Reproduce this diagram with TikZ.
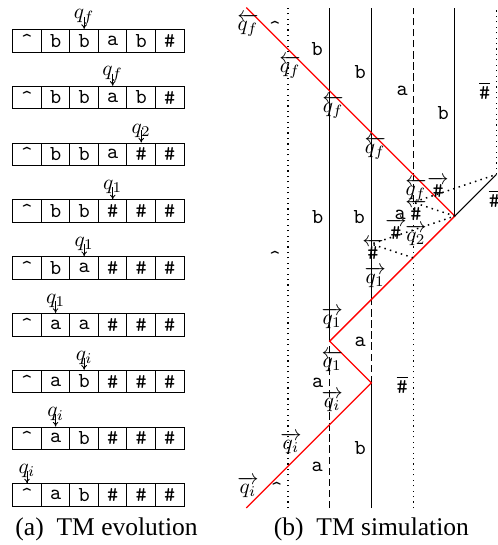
\documentclass[tikz,border=0pt]{standalone}
\usepackage{amsmath,amssymb}
\usepackage{fontspec}
\newfontfamily\capfont{Liberation Serif}
\usepackage{tikz}
\usetikzlibrary{arrows.meta, calc}

\begin{document}
\begin{tikzpicture}[
  x=19.6pt, y=19.6pt,
  cell/.style={draw, line width=0.45pt, minimum width=13.42pt, minimum height=10.6pt,
               inner sep=0pt, font=\ttfamily},
  headlbl/.style={inner sep=0pt},
  headarr/.style={-{To[length=2.2pt,width=2.6pt]}, line width=0.4pt},
  sym/.style={inner sep=0pt, font=\ttfamily},
  siglbl/.style={inner sep=0pt},
  bsol/.style={line width=0.55pt},
  bdash/.style={line width=0.55pt, dash pattern=on 3.4pt off 1.8pt},
  bdot/.style={line width=0.55pt, dotted},
  hsig/.style={draw=red, line width=0.6pt},
  fan/.style={line width=0.7pt, dotted},
  caption/.style={font=\capfont\fontsize{12}{14}\selectfont},
]
\useasboundingbox (-6.906,-0.887) rectangle (5.036,12.182);

% --- tape geometry (a) ---
\def\xT{-6.6}
\def\cw{0.6847}
\def\yT{11.205}
\def\dy{1.362}

% =========================================================
% (a) TM evolution, one tape per step
% =========================================================
\foreach \s [count=\c from 0] in {\textasciicircum,b,b,a,b,\#}
  \node[cell] (r0c\c) at (\xT+\c*\cw+0.5*\cw, \yT) {\s};
\node[headlbl] (h0) at ($(r0c2.north)+(0,0.29)$) {$q_f$};
\draw[headarr] (h0.center) -- (r0c2.north);

\foreach \s [count=\c from 0] in {\textasciicircum,b,b,a,b,\#}
  \node[cell] (r1c\c) at (\xT+\c*\cw+0.5*\cw, \yT-1*\dy) {\s};
\node[headlbl] (h1) at ($(r1c3.north)+(0,0.29)$) {$q_f$};
\draw[headarr] (h1.center) -- (r1c3.north);

\foreach \s [count=\c from 0] in {\textasciicircum,b,b,a,\#,\#}
  \node[cell] (r2c\c) at (\xT+\c*\cw+0.5*\cw, \yT-2*\dy) {\s};
\node[headlbl] (h2) at ($(r2c4.north)+(0,0.29)$) {$q_2$};
\draw[headarr] (h2.center) -- (r2c4.north);

\foreach \s [count=\c from 0] in {\textasciicircum,b,b,\#,\#,\#}
  \node[cell] (r3c\c) at (\xT+\c*\cw+0.5*\cw, \yT-3*\dy) {\s};
\node[headlbl] (h3) at ($(r3c3.north)+(0,0.29)$) {$q_1$};
\draw[headarr] (h3.center) -- (r3c3.north);

\foreach \s [count=\c from 0] in {\textasciicircum,b,a,\#,\#,\#}
  \node[cell] (r4c\c) at (\xT+\c*\cw+0.5*\cw, \yT-4*\dy) {\s};
\node[headlbl] (h4) at ($(r4c2.north)+(0,0.29)$) {$q_1$};
\draw[headarr] (h4.center) -- (r4c2.north);

\foreach \s [count=\c from 0] in {\textasciicircum,a,a,\#,\#,\#}
  \node[cell] (r5c\c) at (\xT+\c*\cw+0.5*\cw, \yT-5*\dy) {\s};
\node[headlbl] (h5) at ($(r5c1.north)+(0,0.29)$) {$q_1$};
\draw[headarr] (h5.center) -- (r5c1.north);

\foreach \s [count=\c from 0] in {\textasciicircum,a,b,\#,\#,\#}
  \node[cell] (r6c\c) at (\xT+\c*\cw+0.5*\cw, \yT-6*\dy) {\s};
\node[headlbl] (h6) at ($(r6c2.north)+(0,0.29)$) {$q_i$};
\draw[headarr] (h6.center) -- (r6c2.north);

\foreach \s [count=\c from 0] in {\textasciicircum,a,b,\#,\#,\#}
  \node[cell] (r7c\c) at (\xT+\c*\cw+0.5*\cw, \yT-7*\dy) {\s};
\node[headlbl] (h7) at ($(r7c1.north)+(0,0.29)$) {$q_i$};
\draw[headarr] (h7.center) -- (r7c1.north);

\foreach \s [count=\c from 0] in {\textasciicircum,a,b,\#,\#,\#}
  \node[cell] (r8c\c) at (\xT+\c*\cw+0.5*\cw, \yT-8*\dy) {\s};
\node[headlbl] (h8) at ($(r8c0.north)+(0,0.29)$) {$q_i$};
\draw[headarr] (h8.center) -- (r8c0.north);

\node[caption] (capa) at (-4.35,-0.52) {(a)\ \ TM evolution};

% =========================================================
% (b) TM simulation, space-time diagram
% =========================================================
\coordinate (s0) at (-1,0);
\coordinate (s1) at (2,3);
\coordinate (s2) at (1,4);
\coordinate (s3) at (4,7);
\coordinate (s4) at (-1,12);
\coordinate (e1) at (5,8);
\coordinate (w1) at (3,6);
\coordinate (w2) at (2,6.33);
\coordinate (w3) at (3,7.33);

% --- cell borders ---
\draw[bdot]  (0,0) -- (0,12);
\draw[bdash] (1,0) -- (s2);
\draw[bsol]  (s2) -- (1,12);
\draw[bsol]  (2,0) -- (s1);
\draw[bdash] (s1) -- (2,5);
\draw[bsol]  (2,5) -- (2,12);
\draw[bdot]  (3,0) -- (w3);
\draw[bdash] (w3) -- (3,12);
\draw[bsol]  (s3) -- (4,12);
\draw[bdot]  (e1) -- (5,12);

% --- head and tape extension ---
\draw[hsig] (s0) -- (s1) -- (s2) -- (s3) -- (s4);
\draw[bsol] (s3) -- (e1);
\draw[fan] (w1) -- (w2) -- (s3);
\draw[fan] (s3) -- (w3) -- (e1);

% --- symbols ---
\node[sym] (y0) at (-0.31,11.51) {\textasciicircum};
\node[sym] (y1) at (-0.31,5.99) {\textasciicircum};
\node[sym] (y2) at (-0.27,0.47) {\textasciicircum};
\node[sym] (y3) at (0.7,11.0) {b};
\node[sym] (y4) at (0.71,6.98) {b};
\node[sym] (y5) at (1.73,10.46) {b};
\node[sym] (y6) at (1.71,6.98) {b};
\node[sym] (y7) at (3.72,9.47) {b};
\node[sym] (y8) at (1.73,1.44) {b};
\node[sym] (y9) at (2.74,10.0) {a};
\node[sym] (y10) at (2.69,7.03) {a};
\node[sym] (y11) at (1.73,3.98) {a};
\node[sym] (y12) at (0.71,3.0) {a};
\node[sym] (y13) at (0.7,0.98) {a};
\node[sym] (y14) at (4.72,10.0) {$\overline{\texttt{\#}}$};
\node[sym] (y15) at (2.74,2.95) {$\overline{\texttt{\#}}$};
\node[sym] (y16) at (4.95,7.42) {$\overline{\texttt{\#}}$};

% --- signal names ---
\node[siglbl] (lf0) at (-0.96,11.58) {$\overleftarrow{q_f}$};
\node[siglbl] (lf1) at (0.05,10.58) {$\overleftarrow{q_f}$};
\node[siglbl] (lf2) at (1.08,9.62) {$\overleftarrow{q_f}$};
\node[siglbl] (lf3) at (2.09,8.63) {$\overleftarrow{q_f}$};
\node[siglbl] (lf4) at (3.07,7.63) {$\overleftarrow{q_f}$};
\node[siglbl] (ri0) at (-0.96,0.5) {$\overrightarrow{q_i}$};
\node[siglbl] (ri1) at (0.07,1.56) {$\overrightarrow{q_i}$};
\node[siglbl] (ri2) at (1.06,2.57) {$\overrightarrow{q_i}$};
\node[siglbl] (l1) at (1.06,3.53) {$\overleftarrow{q_1}$};
\node[siglbl] (r10) at (1.06,4.56) {$\overrightarrow{q_1}$};
\node[siglbl] (r11) at (2.09,5.54) {$\overrightarrow{q_1}$};
\node[siglbl] (r2) at (3.07,6.55) {$\overrightarrow{q_2}$};
\node[siglbl] (lh0) at (2.04,6.2) {$\overleftarrow{\texttt{\#}}$};
\node[siglbl] (lh1) at (3.07,7.15) {$\overleftarrow{\texttt{\#}}$};
\node[siglbl] (rh0) at (2.59,6.7) {$\overrightarrow{\texttt{\#}}$};
\node[siglbl] (rh1) at (3.6,7.7) {$\overrightarrow{\texttt{\#}}$};

\node[caption] (capb) at (2.0,-0.52) {(b)\ \ TM simulation};

\end{tikzpicture}
\end{document}
